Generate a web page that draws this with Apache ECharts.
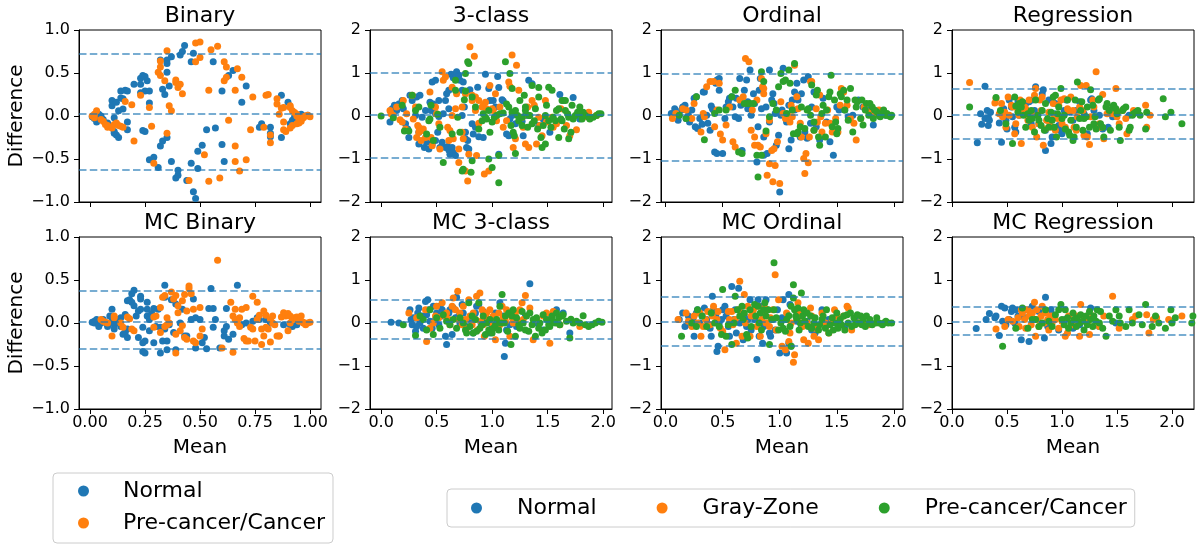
<!DOCTYPE html>
<html>
<head>
<meta charset="utf-8">
<script src="https://cdn.jsdelivr.net/npm/echarts@6/dist/echarts.min.js"></script>
<style>
html, body { margin: 0; padding: 0; background: #fff; }
#main { width: 1201px; height: 548px; }
</style>
</head>
<body>
<div id="main"></div>
<script>
// panel titles, ticks and limit lines (mean, mean +/- 1.96 sd)
var panelTitles = ['Binary', '3-class', 'Ordinal', 'Regression', 'MC Binary', 'MC 3-class', 'MC Ordinal', 'MC Regression'];
var xTicksBinary = [0, 0.25, 0.5, 0.75, 1];
var xTicksClass = [0, 0.5, 1, 1.5, 2];
var yTicksBinary = [-1, -0.5, 0, 0.5, 1];
var yTicksClass = [-2, -1, 0, 1, 2];

var binaryLimits = [0.72, 0.03, -0.63];
var classLimits = [1.0, 0.02, -0.97];
var ordinalLimits = [0.98, 0.03, -1.04];
var regressionLimits = [0.63, 0.02, -0.54];
var mcBinaryLimits = [0.37, 0.01, -0.30];
var mcClassLimits = [0.53, 0.03, -0.36];
var mcOrdinalLimits = [0.62, 0.03, -0.54];
var mcRegressionLimits = [0.38, 0.03, -0.27];

// [mean, difference]
var binaryNormal = [[0.01,-0.01],[0.02,-0.03],[0.03,-0.07],[0.04,0.02],[0.05,-0.02],[0.05,0.0],[0.06,-0.04],[0.08,-0.08],[0.10,0.18],[0.10,0.12],[0.11,-0.18],[0.11,-0.02],[0.11,-0.20],[0.12,-0.22],[0.13,-0.25],[0.13,0.06],[0.12,0.16],[0.14,0.29],[0.14,0.21],[0.15,0.20],[0.16,0.30],[0.17,0.29],[0.17,-0.07],[0.17,-0.16],[0.15,0.08],[0.20,0.37],[0.23,0.37],[0.23,0.44],[0.24,0.47],[0.25,0.46],[0.26,0.41],[0.23,0.27],[0.25,0.29],[0.27,0.29],[0.27,0.15],[0.24,-0.17],[0.25,-0.18],[0.27,-0.51],[0.29,-0.48],[0.31,-0.60],[0.32,-0.35],[0.33,-0.29],[0.35,-0.25],[0.33,0.31],[0.32,0.65],[0.35,0.65],[0.34,0.25],[0.36,0.35],[0.35,0.61],[0.35,0.51],[0.37,-0.53],[0.39,-0.72],[0.40,-0.69],[0.40,-0.63],[0.44,-0.75],[0.46,-0.55],[0.47,-0.88],[0.48,-0.96],[0.49,-0.61],[0.49,-0.41],[0.51,-0.34],[0.37,0.69],[0.41,0.71],[0.42,0.75],[0.43,0.82],[0.46,0.63],[0.47,0.73],[0.53,-0.16],[0.57,-0.14],[0.56,0.63],[0.60,-0.33],[0.60,0.29],[0.61,-0.53],[0.63,0.47],[0.65,0.53],[0.69,0.16],[0.71,0.35],[0.78,-0.09],[0.77,-0.13],[0.82,-0.13],[0.82,-0.24],[0.82,-0.20],[0.87,-0.25],[0.87,0.24],[0.90,0.16],[0.91,-0.09],[0.92,-0.05],[0.93,-0.01],[0.96,0.02],[0.97,0.0],[0.99,0.01]];
var binaryCancer = [[0.01,0.0],[0.02,-0.02],[0.02,0.02],[0.03,0.06],[0.05,-0.04],[0.06,-0.06],[0.07,-0.10],[0.08,-0.13],[0.08,-0.11],[0.10,-0.14],[0.11,-0.10],[0.12,-0.08],[0.13,-0.11],[0.14,-0.12],[0.15,-0.13],[0.16,0.17],[0.19,0.13],[0.20,-0.29],[0.23,0.24],[0.27,0.10],[0.28,-0.12],[0.29,-0.55],[0.31,0.51],[0.32,0.57],[0.32,0.47],[0.34,0.41],[0.32,0.64],[0.35,0.76],[0.36,0.12],[0.35,-0.20],[0.37,0.06],[0.39,0.42],[0.39,0.39],[0.40,0.33],[0.42,0.26],[0.41,0.37],[0.45,-0.75],[0.48,0.63],[0.48,0.85],[0.50,0.86],[0.50,0.68],[0.52,-0.45],[0.54,-0.76],[0.54,0.30],[0.55,0.77],[0.58,0.81],[0.59,-0.72],[0.61,0.63],[0.61,0.41],[0.62,0.57],[0.62,0.45],[0.63,-0.05],[0.66,-0.35],[0.66,-0.53],[0.66,0.30],[0.67,0.55],[0.68,-0.64],[0.69,0.45],[0.71,-0.51],[0.74,0.22],[0.73,-0.16],[0.79,-0.13],[0.80,0.24],[0.81,0.25],[0.82,-0.22],[0.82,-0.31],[0.85,0.20],[0.85,0.14],[0.86,0.02],[0.87,0.09],[0.88,-0.07],[0.88,0.10],[0.88,-0.16],[0.89,-0.18],[0.91,0.12],[0.91,0.10],[0.92,0.06],[0.93,0.04],[0.94,0.0],[0.94,0.02],[0.95,-0.04],[0.96,-0.06],[0.97,-0.02],[0.97,-0.01],[0.98,0.0],[0.99,0.01],[1.0,-0.01],[0.92,-0.11],[0.94,-0.09],[0.95,-0.08],[0.91,-0.14]];

var mcBinaryNormal = [[0.01,0.01],[0.02,0.02],[0.02,0.0],[0.03,0.04],[0.04,-0.02],[0.04,-0.04],[0.05,0.0],[0.06,0.02],[0.06,0.04],[0.08,-0.02],[0.08,-0.04],[0.09,0.08],[0.10,0.16],[0.10,0.02],[0.11,-0.02],[0.11,-0.07],[0.12,0.04],[0.13,0.0],[0.14,0.06],[0.14,-0.04],[0.15,-0.13],[0.16,0.10],[0.16,-0.11],[0.17,-0.07],[0.17,-0.17],[0.17,0.26],[0.18,0.27],[0.19,0.34],[0.19,0.24],[0.20,0.38],[0.20,0.20],[0.21,0.08],[0.22,-0.17],[0.22,0.14],[0.23,0.31],[0.23,0.16],[0.23,0.28],[0.24,-0.05],[0.24,-0.33],[0.24,-0.23],[0.25,-0.35],[0.25,-0.21],[0.26,0.16],[0.26,0.24],[0.26,0.08],[0.27,-0.09],[0.27,0.04],[0.28,0.11],[0.29,0.17],[0.29,-0.23],[0.30,-0.04],[0.31,0.16],[0.32,-0.05],[0.32,-0.35],[0.33,-0.21],[0.34,-0.07],[0.34,0.44],[0.34,0.30],[0.35,-0.31],[0.35,-0.21],[0.36,-0.02],[0.37,0.27],[0.38,-0.11],[0.39,0.22],[0.39,-0.31],[0.41,0.0],[0.42,0.16],[0.43,-0.15],[0.44,-0.15],[0.46,0.04],[0.47,0.28],[0.48,0.06],[0.48,-0.29],[0.50,0.04],[0.51,-0.23],[0.52,-0.17],[0.53,-0.30],[0.54,0.17],[0.55,0.40],[0.56,-0.05],[0.56,0.17],[0.57,0.04],[0.59,-0.29],[0.61,-0.09],[0.61,-0.15],[0.62,0.17],[0.62,-0.04],[0.63,-0.19],[0.65,-0.13],[0.67,0.44],[0.69,-0.02],[0.71,0.0],[0.74,0.02],[0.76,0.06],[0.77,0.04],[0.80,0.04],[0.82,0.0],[0.88,-0.02],[0.91,-0.02],[0.92,-0.04],[0.94,-0.02]];
var mcBinaryCancer = [[0.05,0.04],[0.06,0.02],[0.07,0.01],[0.08,0.0],[0.10,-0.15],[0.11,0.08],[0.11,0.06],[0.14,0.0],[0.15,-0.05],[0.17,0.07],[0.18,0.05],[0.19,-0.07],[0.20,-0.09],[0.29,-0.05],[0.29,0.07],[0.30,0.08],[0.32,-0.11],[0.32,0.18],[0.33,0.30],[0.34,0.32],[0.34,-0.04],[0.35,-0.02],[0.35,0.06],[0.36,0.0],[0.37,0.36],[0.38,0.28],[0.39,0.32],[0.39,-0.35],[0.39,-0.13],[0.40,0.12],[0.40,0.20],[0.41,-0.09],[0.42,-0.03],[0.42,0.26],[0.43,-0.17],[0.43,0.33],[0.44,0.14],[0.44,-0.19],[0.45,0.40],[0.45,0.43],[0.46,0.34],[0.47,0.16],[0.47,-0.21],[0.48,-0.23],[0.50,0.18],[0.50,-0.15],[0.51,-0.07],[0.58,0.73],[0.60,-0.29],[0.65,-0.34],[0.64,0.24],[0.65,0.08],[0.66,0.04],[0.66,0.16],[0.67,0.0],[0.68,0.06],[0.68,-0.04],[0.69,0.16],[0.70,-0.18],[0.71,0.18],[0.71,-0.21],[0.72,-0.21],[0.73,-0.05],[0.74,-0.07],[0.74,0.31],[0.75,-0.21],[0.76,0.24],[0.76,0.04],[0.77,0.09],[0.78,-0.07],[0.78,-0.25],[0.79,0.14],[0.79,-0.15],[0.80,0.09],[0.80,-0.05],[0.81,-0.07],[0.82,-0.22],[0.82,0.04],[0.83,0.08],[0.83,0.0],[0.84,-0.02],[0.85,-0.15],[0.86,-0.15],[0.86,-0.15],[0.87,0.07],[0.88,0.12],[0.89,0.08],[0.89,0.10],[0.90,0.11],[0.90,-0.09],[0.91,0.0],[0.91,0.08],[0.92,0.04],[0.93,0.06],[0.94,0.07],[0.94,0.04],[0.95,0.02],[0.96,0.08],[0.97,0.0],[0.97,0.01],[0.98,-0.02],[0.99,0.0],[1.0,0.01]];

var classNormal = [[0.08,-0.14],[0.10,0.17],[0.12,0.25],[0.14,0.13],[0.16,0.28],[0.19,0.36],[0.20,0.17],[0.22,-0.18],[0.24,-0.30],[0.25,-0.50],[0.26,0.48],[0.28,0.36],[0.31,0.01],[0.32,0.44],[0.34,-0.38],[0.34,-0.65],[0.35,0.48],[0.37,-0.03],[0.39,-0.73],[0.40,0.13],[0.41,-0.61],[0.43,-0.77],[0.44,0.32],[0.45,0.13],[0.46,-0.65],[0.47,0.28],[0.48,0.21],[0.49,0.05],[0.49,-0.57],[0.51,-0.38],[0.52,0.36],[0.52,-0.01],[0.53,-0.73],[0.55,-0.61],[0.46,0.79],[0.49,0.83],[0.56,0.05],[0.58,-0.73],[0.60,-0.71],[0.61,-0.79],[0.62,-0.89],[0.64,-0.73],[0.65,-0.85],[0.67,-0.92],[0.58,0.36],[0.59,0.52],[0.61,0.60],[0.61,0.17],[0.63,0.97],[0.65,0.89],[0.67,0.92],[0.67,0.97],[0.68,1.03],[0.70,0.95],[0.71,0.83],[0.73,0.60],[0.73,0.01],[0.74,0.79],[0.75,0.21],[0.76,-0.38],[0.76,-0.53],[0.77,-0.73],[0.78,-0.57],[0.79,-0.77],[0.80,0.61],[0.82,-0.18],[0.83,-0.42],[0.85,-0.26],[0.87,0.67],[0.88,-0.48],[0.92,-0.50],[0.94,0.97],[0.97,0.64],[0.98,0.36],[1.01,0.36],[1.03,0.21],[1.04,0.01],[1.05,0.92],[1.06,0.66],[1.06,-0.89],[1.09,0.38],[1.10,0.35],[1.13,-0.42],[1.15,-0.46],[1.16,-0.07],[1.18,0.01],[1.19,0.05],[1.21,-0.18],[1.27,-0.12],[1.28,-0.46],[1.30,0.01],[1.33,0.83],[1.36,0.75],[1.42,-0.22],[1.46,-0.07],[1.52,-0.38],[1.61,0.50],[1.64,0.36],[1.73,0.43],[1.79,-0.07]];
var classGray = [[0.08,0.13],[0.09,0.05],[0.11,0.01],[0.14,0.21],[0.17,-0.09],[0.19,-0.14],[0.20,0.36],[0.22,-0.30],[0.23,0.05],[0.28,0.48],[0.29,-0.07],[0.31,0.21],[0.32,-0.50],[0.33,-0.22],[0.34,-0.38],[0.34,-0.26],[0.36,-0.57],[0.37,-0.34],[0.38,-0.30],[0.40,-0.50],[0.44,0.56],[0.45,-0.50],[0.46,-0.69],[0.49,0.21],[0.50,0.05],[0.52,-0.18],[0.53,-0.77],[0.55,1.03],[0.56,0.83],[0.58,0.91],[0.60,-0.26],[0.61,-0.57],[0.62,-0.34],[0.64,0.67],[0.64,0.01],[0.65,-0.53],[0.67,0.17],[0.68,0.52],[0.70,-1.08],[0.70,-0.77],[0.73,-0.38],[0.73,0.21],[0.74,-0.53],[0.76,0.52],[0.76,-1.28],[0.78,-1.51],[0.79,-0.89],[0.80,1.61],[0.82,0.36],[0.82,0.48],[0.84,1.39],[0.85,0.44],[0.85,0.13],[0.86,-0.92],[0.88,0.36],[0.88,-0.17],[0.91,0.21],[0.92,0.25],[0.93,-1.35],[0.94,0.32],[0.95,0.17],[0.97,-1.28],[0.98,0.71],[1.00,0.17],[1.01,0.13],[1.03,0.52],[1.04,-0.11],[1.07,0.21],[1.10,-0.26],[1.13,-0.11],[1.15,0.79],[1.16,0.69],[1.18,1.42],[1.19,-0.73],[1.21,-0.53],[1.22,1.18],[1.24,0.60],[1.27,-0.03],[1.28,-0.26],[1.30,-0.65],[1.32,0.21],[1.33,-0.73],[1.36,0.36],[1.38,0.25],[1.40,-0.65],[1.42,-0.03],[1.43,-0.22],[1.45,-0.46],[1.48,0.36],[1.49,-0.14],[1.54,-0.03],[1.55,-0.26],[1.58,-0.18],[1.62,0.17],[1.67,-0.22],[1.70,-0.46],[1.76,-0.32],[1.82,-0.03],[1.87,0.09],[1.94,0.01]];
var classCancer = [[0.0,0.0],[0.11,-0.04],[0.19,0.25],[0.21,-0.35],[0.25,-0.35],[0.28,0.48],[0.31,0.13],[0.34,0.21],[0.41,-0.42],[0.43,-0.11],[0.44,-0.07],[0.45,0.25],[0.47,-0.57],[0.51,0.04],[0.53,-0.26],[0.56,-1.08],[0.64,-0.42],[0.67,0.83],[0.67,0.60],[0.69,-0.03],[0.71,-0.38],[0.73,-1.28],[0.74,-1.24],[0.75,0.38],[0.76,0.58],[0.76,0.99],[0.78,1.26],[0.79,1.22],[0.81,-1.31],[0.82,-1.04],[0.82,0.44],[0.85,0.21],[0.88,-0.30],[0.91,-0.11],[0.92,0.05],[0.94,-0.03],[0.95,-0.07],[0.97,0.13],[0.97,-1.00],[0.98,-0.38],[1.00,-0.14],[1.00,-1.20],[1.02,-0.03],[1.04,0.01],[1.06,-1.55],[1.06,-0.92],[1.07,0.05],[1.10,0.07],[1.12,1.26],[1.13,0.28],[1.15,0.21],[1.16,0.99],[1.17,-0.22],[1.18,0.09],[1.18,0.64],[1.19,-0.38],[1.20,-0.46],[1.21,-0.87],[1.21,0.13],[1.23,0.01],[1.24,-0.11],[1.25,0.36],[1.27,-0.22],[1.27,-0.03],[1.29,0.48],[1.30,0.13],[1.30,0.21],[1.32,-0.26],[1.33,0.01],[1.34,0.01],[1.36,-0.18],[1.36,0.71],[1.38,-0.11],[1.39,0.17],[1.41,-0.30],[1.42,0.66],[1.42,0.44],[1.44,-0.50],[1.45,-0.73],[1.46,-0.22],[1.48,-0.65],[1.48,0.01],[1.49,0.25],[1.51,0.67],[1.51,-0.11],[1.53,-0.26],[1.54,0.60],[1.55,-0.03],[1.57,-0.11],[1.58,0.13],[1.60,0.17],[1.60,-0.50],[1.62,-0.07],[1.63,0.36],[1.63,-0.11],[1.65,-0.30],[1.66,0.13],[1.66,0.36],[1.68,0.05],[1.69,-0.53],[1.69,-0.03],[1.71,-0.38],[1.72,0.25],[1.73,-0.07],[1.75,0.01],[1.77,0.09],[1.79,0.21],[1.80,0.05],[1.81,-0.07],[1.82,0.09],[1.84,0.01],[1.87,-0.03],[1.88,-0.07],[1.91,-0.03],[1.94,0.01],[1.96,0.05],[1.98,0.05]];

var ordinalNormal = [[0.05,0.06],[0.08,0.17],[0.11,-0.10],[0.12,0.02],[0.14,0.14],[0.15,0.21],[0.17,0.25],[0.18,-0.06],[0.20,0.02],[0.21,-0.14],[0.23,0.14],[0.25,0.41],[0.26,-0.25],[0.27,0.45],[0.28,-0.29],[0.30,-0.06],[0.32,-0.19],[0.33,0.56],[0.34,0.56],[0.36,0.02],[0.37,-0.17],[0.39,-0.33],[0.40,0.23],[0.41,0.17],[0.42,0.14],[0.43,-0.84],[0.44,0.76],[0.45,-0.87],[0.45,0.84],[0.47,0.60],[0.47,0.87],[0.50,-0.87],[0.52,-0.06],[0.53,0.21],[0.55,0.33],[0.56,0.41],[0.58,0.45],[0.59,0.21],[0.61,-0.02],[0.62,0.41],[0.64,-0.06],[0.65,0.87],[0.66,0.25],[0.67,-0.80],[0.69,0.60],[0.71,0.84],[0.72,0.17],[0.72,0.33],[0.74,1.07],[0.75,0.02],[0.77,0.52],[0.78,0.29],[0.80,-1.07],[0.81,-0.25],[0.82,0.60],[0.83,0.87],[0.84,0.17],[0.86,-0.49],[0.86,-0.91],[0.88,0.21],[0.89,-0.87],[0.91,-0.14],[0.91,1.07],[0.93,0.37],[0.94,0.52],[0.95,0.29],[0.96,0.06],[0.97,-0.68],[0.99,-0.45],[1.00,-1.77],[1.01,0.02],[1.02,0.14],[1.03,1.11],[1.05,-0.02],[1.06,-0.14],[1.08,0.25],[1.08,-0.76],[1.10,-0.56],[1.11,0.37],[1.13,0.56],[1.13,0.14],[1.15,0.76],[1.16,0.37],[1.18,-0.49],[1.19,0.52],[1.21,0.84],[1.22,-0.37],[1.24,-0.52],[1.25,0.91],[1.27,-0.17],[1.28,0.21],[1.30,0.56],[1.32,-0.25],[1.35,-0.56],[1.38,0.41],[1.41,-0.14],[1.44,-0.60],[1.47,-0.91],[1.50,0.21],[1.52,0.14],[1.57,0.14],[1.60,-0.02],[1.64,0.02],[1.69,0.37],[1.73,0.21],[1.78,0.14],[1.82,-0.21],[1.87,0.06],[1.93,0.02]];
var ordinalGray = [[0.06,-0.06],[0.09,0.06],[0.15,0.17],[0.18,0.14],[0.23,-0.06],[0.25,0.29],[0.31,-0.37],[0.33,0.06],[0.34,-0.02],[0.36,0.68],[0.39,0.80],[0.42,0.80],[0.43,-0.25],[0.45,0.14],[0.47,0.76],[0.48,-0.42],[0.50,-0.56],[0.53,-0.21],[0.56,0.21],[0.59,-0.60],[0.61,-0.72],[0.65,0.37],[0.68,0.45],[0.70,1.34],[0.73,1.26],[0.75,-0.33],[0.76,0.14],[0.78,-0.68],[0.78,-0.49],[0.80,0.37],[0.81,-0.68],[0.83,-0.72],[0.84,0.87],[0.85,0.68],[0.86,0.52],[0.86,0.64],[0.88,-0.41],[0.89,-1.38],[0.91,-1.11],[0.91,-0.10],[0.93,-0.80],[0.94,-1.53],[0.95,-0.76],[0.96,-1.15],[0.98,-0.60],[1.00,-1.57],[1.01,0.33],[1.03,0.06],[1.05,-0.06],[1.07,0.02],[1.09,-0.14],[1.10,0.25],[1.11,-0.02],[1.13,1.18],[1.15,0.45],[1.16,0.17],[1.18,-0.17],[1.19,-0.49],[1.21,-0.99],[1.22,-1.34],[1.23,-0.87],[1.25,-1.09],[1.26,-0.49],[1.27,0.80],[1.28,0.80],[1.30,-0.33],[1.32,0.17],[1.33,-0.14],[1.35,0.49],[1.36,-0.02],[1.37,-0.37],[1.40,-0.17],[1.42,0.14],[1.44,-0.17],[1.46,-0.37],[1.49,-0.06],[1.51,-0.37],[1.53,0.25],[1.54,0.64],[1.56,0.56],[1.59,0.25],[1.62,-0.06],[1.65,-0.17],[1.67,-0.56],[1.71,-0.06],[1.74,0.21],[1.78,0.10],[1.82,0.06],[1.87,0.14]];
var ordinalCancer = [[0.12,0.02],[0.18,-0.06],[0.27,0.45],[0.34,-0.55],[0.43,0.06],[0.47,0.14],[0.53,0.14],[0.58,0.45],[0.61,0.60],[0.64,-0.84],[0.67,-0.87],[0.69,0.29],[0.72,0.29],[0.74,0.29],[0.77,0.29],[0.80,-0.91],[0.81,-1.42],[0.84,-0.91],[0.84,1.03],[0.86,0.80],[0.88,-0.35],[0.91,-0.02],[0.94,0.29],[0.97,0.14],[0.99,0.68],[1.01,0.99],[1.03,0.80],[1.05,0.84],[1.06,0.06],[1.08,1.07],[1.09,0.76],[1.11,0.14],[1.12,-0.41],[1.13,1.22],[1.15,-0.41],[1.16,-0.37],[1.18,-0.25],[1.19,0.21],[1.22,-0.29],[1.24,0.14],[1.25,0.17],[1.27,0.02],[1.28,0.72],[1.30,-0.14],[1.30,-0.33],[1.32,0.49],[1.33,0.60],[1.34,-0.49],[1.35,-0.68],[1.37,0.06],[1.38,0.25],[1.40,-0.49],[1.41,0.14],[1.43,0.45],[1.44,0.56],[1.45,0.95],[1.46,-0.25],[1.48,0.37],[1.49,-0.14],[1.50,-0.41],[1.51,-0.29],[1.53,0.52],[1.54,0.45],[1.56,0.60],[1.57,0.14],[1.59,0.37],[1.60,-0.10],[1.62,0.64],[1.64,-0.37],[1.66,0.37],[1.67,0.21],[1.68,0.33],[1.71,-0.06],[1.72,0.37],[1.73,-0.21],[1.75,0.14],[1.76,0.29],[1.78,0.02],[1.79,0.29],[1.81,0.21],[1.82,-0.06],[1.83,0.14],[1.85,0.10],[1.87,0.02],[1.88,-0.02],[1.90,0.06],[1.91,0.14],[1.93,0.02],[1.94,0.06],[1.95,0.02],[1.97,-0.02],[1.98,0.02]];

var regressionNormal = [[0.23,-0.62],[0.26,0.05],[0.27,-0.19],[0.30,0.69],[0.30,-0.06],[0.32,0.13],[0.33,-0.04],[0.33,-0.22],[0.34,-0.10],[0.35,0.09],[0.43,-0.16],[0.45,-0.61],[0.47,0.17],[0.49,-0.10],[0.50,-0.30],[0.52,0.37],[0.54,0.21],[0.55,-0.02],[0.57,-0.26],[0.58,-0.37],[0.60,0.33],[0.61,0.02],[0.64,0.13],[0.67,0.29],[0.70,0.33],[0.72,-0.18],[0.73,0.37],[0.75,0.13],[0.76,0.68],[0.78,0.02],[0.79,-0.18],[0.82,0.51],[0.83,0.61],[0.85,-0.80],[0.85,-0.33],[0.87,-0.10],[0.88,0.37],[0.90,-0.64],[0.91,-0.49],[0.93,0.05],[0.94,0.29],[0.97,-0.22],[0.98,-0.33],[1.00,-0.41],[1.02,0.13],[1.04,0.37],[1.07,0.09],[1.10,-0.10],[1.13,0.13],[1.16,0.33],[1.20,0.05],[1.23,-0.41],[1.26,0.37],[1.27,0.40],[1.29,0.13],[1.34,0.02],[1.37,-0.30],[1.42,-0.26],[1.46,-0.02],[1.50,0.05],[1.61,0.02]];
var regressionGray = [[0.16,0.78],[0.39,0.30],[0.40,0.40],[0.43,0.05],[0.45,0.29],[0.46,-0.02],[0.48,0.09],[0.49,-0.26],[0.51,0.44],[0.52,0.02],[0.54,0.25],[0.55,0.21],[0.57,-0.41],[0.58,-0.18],[0.60,0.13],[0.61,0.02],[0.62,0.37],[0.63,-0.64],[0.64,0.09],[0.66,0.21],[0.67,0.17],[0.69,-0.10],[0.70,0.37],[0.71,-0.06],[0.72,0.05],[0.73,-0.26],[0.75,0.48],[0.76,0.64],[0.77,-0.49],[0.79,-0.18],[0.80,0.37],[0.81,0.13],[0.82,0.44],[0.83,-0.68],[0.85,-0.30],[0.86,-0.10],[0.88,0.09],[0.89,-0.22],[0.91,-0.26],[0.92,0.29],[0.93,0.02],[0.94,-0.33],[0.96,-0.06],[0.97,0.25],[0.99,0.37],[1.00,-0.18],[1.02,0.40],[1.03,-0.26],[1.05,0.17],[1.06,0.13],[1.08,0.44],[1.10,0.13],[1.11,-0.26],[1.13,-0.33],[1.14,-0.02],[1.16,0.21],[1.17,0.71],[1.19,0.13],[1.20,-0.45],[1.22,0.71],[1.23,-0.49],[1.25,-0.66],[1.26,-0.02],[1.28,0.37],[1.29,0.21],[1.31,1.03],[1.32,-0.22],[1.34,-0.18],[1.35,-0.26],[1.37,0.50],[1.38,-0.53],[1.41,0.05],[1.46,0.05],[1.49,0.64],[1.50,-0.02],[1.52,-0.18],[1.55,0.13],[1.58,-0.06],[1.59,-0.41],[1.65,0.13],[1.76,0.25],[1.77,-0.26],[1.80,0.02]];
var regressionCancer = [[0.16,0.21],[0.40,0.43],[0.44,0.13],[0.49,-0.18],[0.55,-0.64],[0.57,0.44],[0.58,0.23],[0.60,0.09],[0.61,0.29],[0.63,0.21],[0.64,0.33],[0.65,0.02],[0.67,-0.26],[0.69,0.05],[0.70,-0.10],[0.72,0.13],[0.73,-0.06],[0.75,-0.37],[0.76,0.37],[0.78,0.02],[0.79,-0.10],[0.81,-0.22],[0.82,0.13],[0.84,-0.33],[0.85,0.29],[0.87,-0.06],[0.88,-0.26],[0.90,0.09],[0.91,-0.10],[0.92,0.44],[0.93,-0.26],[0.94,0.48],[0.95,-0.49],[0.96,0.05],[0.97,0.21],[0.99,0.64],[1.00,-0.06],[1.02,0.02],[1.03,-0.30],[1.05,0.37],[1.06,-0.37],[1.07,-0.45],[1.08,-0.10],[1.10,-0.57],[1.11,-0.49],[1.12,0.37],[1.13,-0.26],[1.14,0.79],[1.16,-0.06],[1.17,0.13],[1.18,0.33],[1.19,-0.33],[1.20,-0.06],[1.22,-0.02],[1.23,0.21],[1.25,-0.26],[1.26,0.61],[1.28,0.25],[1.29,-0.18],[1.30,-0.02],[1.31,-0.30],[1.33,0.37],[1.34,0.40],[1.35,-0.18],[1.37,-0.26],[1.38,-0.49],[1.40,0.21],[1.41,0.29],[1.43,0.13],[1.44,-0.33],[1.46,0.21],[1.47,0.25],[1.49,0.17],[1.50,0.05],[1.52,-0.26],[1.53,-0.57],[1.55,0.13],[1.56,0.17],[1.58,0.21],[1.61,-0.33],[1.62,-0.26],[1.64,0.02],[1.65,0.05],[1.67,0.09],[1.69,0.13],[1.71,0.02],[1.76,-0.30],[1.77,0.09],[1.92,0.40],[1.94,-0.02],[1.99,0.09],[2.09,-0.18]];

var mcClassNormal = [[0.09,0.02],[0.16,0.0],[0.26,0.31],[0.27,0.08],[0.28,-0.04],[0.29,0.12],[0.31,-0.19],[0.32,-0.08],[0.33,0.23],[0.34,0.35],[0.35,0.0],[0.37,0.16],[0.38,-0.12],[0.40,0.50],[0.41,0.19],[0.42,0.54],[0.43,0.31],[0.44,0.04],[0.46,-0.12],[0.47,0.39],[0.49,0.08],[0.50,0.23],[0.52,-0.04],[0.53,0.39],[0.55,0.31],[0.56,0.16],[0.58,-0.31],[0.59,-0.50],[0.61,0.23],[0.62,0.31],[0.64,-0.27],[0.65,0.35],[0.67,0.12],[0.68,0.60],[0.70,0.16],[0.71,0.0],[0.73,0.43],[0.74,0.23],[0.77,-0.08],[0.80,0.08],[0.83,-0.23],[0.85,0.23],[0.86,0.39],[0.88,0.43],[0.90,0.0],[0.92,0.27],[0.95,0.08],[0.98,-0.23],[1.00,-0.08],[1.03,0.23],[1.04,-0.04],[1.07,0.47],[1.10,0.16],[1.11,-0.78],[1.12,-0.47],[1.13,-0.16],[1.16,-0.04],[1.19,0.08],[1.22,-0.08],[1.25,0.04],[1.30,0.16],[1.34,0.91],[1.40,0.0],[1.46,-0.16],[1.52,0.08],[1.58,0.31],[1.64,0.23],[1.70,-0.23]];
var mcClassGray = [[0.25,0.23],[0.32,0.12],[0.40,0.31],[0.41,-0.43],[0.44,-0.12],[0.47,0.0],[0.49,0.16],[0.50,0.39],[0.52,0.12],[0.55,0.47],[0.58,0.16],[0.59,0.23],[0.61,0.08],[0.62,-0.04],[0.64,0.39],[0.65,0.58],[0.67,0.31],[0.69,0.74],[0.70,0.08],[0.71,0.23],[0.73,-0.04],[0.74,0.39],[0.76,0.08],[0.77,-0.12],[0.79,0.54],[0.80,0.16],[0.82,-0.04],[0.83,0.23],[0.85,0.08],[0.86,0.62],[0.87,-0.16],[0.89,0.70],[0.90,0.04],[0.91,0.31],[0.92,-0.04],[0.93,-0.31],[0.94,0.16],[0.95,0.23],[0.97,0.08],[0.98,0.31],[1.00,0.0],[1.01,0.16],[1.03,-0.39],[1.04,0.08],[1.06,0.23],[1.07,-0.04],[1.09,0.39],[1.10,0.12],[1.12,0.04],[1.13,0.31],[1.15,0.19],[1.16,-0.31],[1.18,0.12],[1.19,0.0],[1.21,0.23],[1.22,0.04],[1.25,0.31],[1.27,0.47],[1.28,0.08],[1.30,0.64],[1.34,0.35],[1.37,-0.39],[1.40,0.08],[1.46,0.16],[1.49,0.23],[1.52,-0.47],[1.55,0.27],[1.61,-0.04],[1.79,-0.08]];
var mcClassCancer = [[0.20,-0.04],[0.31,-0.29],[0.35,0.16],[0.38,0.08],[0.41,-0.16],[0.44,0.31],[0.47,-0.27],[0.50,0.12],[0.53,-0.12],[0.56,0.19],[0.59,0.04],[0.62,-0.04],[0.65,0.08],[0.68,-0.12],[0.71,0.12],[0.74,0.0],[0.76,-0.16],[0.77,-0.23],[0.79,0.47],[0.80,-0.08],[0.82,0.16],[0.83,-0.23],[0.85,0.08],[0.86,-0.19],[0.88,0.47],[0.89,-0.12],[0.91,-0.04],[0.92,0.16],[0.94,-0.27],[0.95,0.0],[0.97,-0.16],[0.98,0.08],[1.00,-0.23],[1.01,-0.12],[1.03,-0.04],[1.04,0.08],[1.06,-0.16],[1.07,0.39],[1.08,0.0],[1.09,0.66],[1.11,0.0],[1.12,0.16],[1.14,-0.19],[1.15,0.23],[1.17,-0.50],[1.18,0.16],[1.19,0.31],[1.21,-0.31],[1.22,0.12],[1.24,-0.04],[1.25,-0.12],[1.27,0.27],[1.28,0.0],[1.30,-0.16],[1.31,0.16],[1.33,-0.19],[1.34,0.23],[1.36,-0.04],[1.37,0.08],[1.39,-0.31],[1.40,0.12],[1.42,-0.12],[1.43,0.0],[1.45,-0.23],[1.46,0.19],[1.48,-0.16],[1.49,0.08],[1.51,-0.04],[1.52,-0.08],[1.54,0.16],[1.55,0.04],[1.57,0.0],[1.58,0.23],[1.60,0.12],[1.61,-0.04],[1.63,0.16],[1.64,0.19],[1.67,0.04],[1.70,-0.35],[1.71,0.09],[1.73,0.0],[1.76,0.04],[1.79,0.0],[1.82,0.17],[1.84,-0.04],[1.87,-0.08],[1.90,-0.04],[1.93,0.0],[1.96,0.04],[1.99,0.02]];

var mcOrdinalNormal = [[0.12,0.08],[0.15,0.23],[0.17,-0.08],[0.20,0.16],[0.22,-0.04],[0.24,0.08],[0.25,-0.31],[0.27,0.23],[0.28,0.31],[0.30,0.0],[0.32,0.16],[0.34,0.35],[0.36,0.08],[0.37,-0.04],[0.39,-0.12],[0.40,-0.31],[0.41,0.62],[0.42,0.31],[0.44,0.16],[0.45,-0.66],[0.46,-0.54],[0.47,0.0],[0.49,0.08],[0.50,0.31],[0.52,0.39],[0.53,0.16],[0.55,-0.08],[0.56,-0.31],[0.58,0.85],[0.60,0.08],[0.61,0.31],[0.62,-0.23],[0.64,0.81],[0.65,0.0],[0.67,0.23],[0.68,-0.39],[0.69,0.16],[0.71,-0.08],[0.72,0.08],[0.74,0.54],[0.75,-0.16],[0.78,0.08],[0.80,-0.85],[0.81,0.54],[0.82,-0.31],[0.84,0.39],[0.85,-0.47],[0.86,-0.08],[0.88,0.54],[0.89,0.31],[0.91,-0.23],[0.92,-0.31],[0.94,0.08],[0.96,-0.16],[0.98,0.31],[1.00,-0.70],[1.02,0.12],[1.03,0.54],[1.05,0.08],[1.06,-0.70],[1.08,-0.47],[1.08,0.66],[1.09,0.43],[1.10,-0.54],[1.15,0.04],[1.19,-0.08],[1.24,0.04],[1.28,-0.16],[1.31,-0.23],[1.37,0.31],[1.43,0.08],[1.49,0.0],[1.57,-0.08],[1.66,0.08]];
var mcOrdinalGray = [[0.11,0.08],[0.18,0.23],[0.20,0.04],[0.23,-0.08],[0.25,0.16],[0.28,0.0],[0.30,0.23],[0.31,-0.31],[0.33,-0.08],[0.35,0.08],[0.37,0.27],[0.39,-0.04],[0.41,0.16],[0.42,0.39],[0.45,0.08],[0.46,0.27],[0.48,-0.12],[0.50,-0.19],[0.52,-0.62],[0.55,0.27],[0.56,0.08],[0.58,0.27],[0.59,-0.04],[0.61,0.08],[0.62,-0.47],[0.64,0.31],[0.65,0.97],[0.67,-0.31],[0.69,0.66],[0.70,0.0],[0.72,0.39],[0.74,-0.31],[0.75,0.16],[0.77,0.31],[0.78,0.16],[0.80,-0.08],[0.81,0.39],[0.83,-0.31],[0.84,0.08],[0.86,0.23],[0.87,0.35],[0.88,0.0],[0.91,-0.08],[0.92,0.12],[0.94,0.31],[0.96,1.12],[0.97,-0.16],[0.99,0.54],[1.02,-0.54],[1.05,-0.62],[1.06,0.23],[1.08,-0.43],[1.09,-0.23],[1.10,0.0],[1.12,-0.91],[1.13,-0.74],[1.15,0.08],[1.16,0.47],[1.17,0.27],[1.19,0.16],[1.20,-0.08],[1.21,-0.39],[1.22,0.23],[1.24,0.0],[1.25,-0.47],[1.27,0.35],[1.28,0.16],[1.30,-0.31],[1.31,-0.12],[1.34,-0.39],[1.37,0.23],[1.40,0.0],[1.43,-0.23],[1.46,0.08],[1.48,0.31],[1.50,0.16],[1.53,-0.04],[1.56,0.16],[1.59,0.39],[1.60,0.35],[1.63,-0.16],[1.69,0.0],[1.73,0.0],[1.78,-0.04]];
var mcOrdinalCancer = [[0.14,-0.31],[0.23,0.0],[0.27,-0.08],[0.28,0.31],[0.32,0.16],[0.36,-0.08],[0.40,0.23],[0.43,0.0],[0.47,-0.08],[0.49,-0.27],[0.50,0.78],[0.53,-0.31],[0.55,-0.04],[0.58,-0.50],[0.60,0.0],[0.61,0.62],[0.63,0.31],[0.65,0.16],[0.67,0.39],[0.68,0.08],[0.69,0.23],[0.71,-0.27],[0.72,-0.35],[0.74,0.31],[0.75,-0.08],[0.78,0.43],[0.79,0.16],[0.81,0.39],[0.82,0.0],[0.83,0.23],[0.84,-0.16],[0.86,0.31],[0.87,0.47],[0.88,0.16],[0.90,0.31],[0.91,-0.50],[0.93,0.08],[0.95,1.40],[0.95,0.31],[0.97,0.12],[0.99,-0.16],[1.01,0.0],[1.03,-0.12],[1.05,-0.19],[1.06,0.08],[1.08,0.17],[1.09,-0.08],[1.10,0.39],[1.10,-0.54],[1.12,0.89],[1.12,0.58],[1.13,0.31],[1.14,0.16],[1.15,0.08],[1.16,0.35],[1.17,-0.16],[1.18,0.0],[1.19,0.70],[1.20,0.16],[1.21,0.31],[1.22,0.04],[1.24,0.23],[1.25,-0.08],[1.27,0.16],[1.28,-0.12],[1.30,0.0],[1.31,0.12],[1.34,-0.16],[1.35,-0.04],[1.37,0.08],[1.38,0.16],[1.40,-0.12],[1.41,0.31],[1.43,-0.23],[1.44,-0.04],[1.46,0.12],[1.47,-0.16],[1.49,0.0],[1.50,0.23],[1.51,-0.12],[1.53,0.08],[1.54,-0.04],[1.56,0.16],[1.57,-0.16],[1.59,0.19],[1.60,0.0],[1.62,0.23],[1.63,-0.08],[1.65,0.12],[1.66,-0.04],[1.68,0.19],[1.69,0.0],[1.71,0.16],[1.72,-0.04],[1.73,0.08],[1.75,-0.08],[1.76,0.16],[1.78,0.0],[1.79,0.08],[1.81,-0.04],[1.84,0.0],[1.85,0.12],[1.87,0.0],[1.90,-0.04],[1.91,0.0],[1.93,0.04],[1.95,0.0],[1.98,0.0]];

var mcRegressionNormal = [[0.22,-0.13],[0.31,0.08],[0.34,0.22],[0.39,0.12],[0.40,0.16],[0.43,-0.29],[0.45,0.39],[0.46,0.04],[0.48,0.35],[0.49,-0.04],[0.52,0.08],[0.54,0.27],[0.55,0.35],[0.57,0.0],[0.58,0.31],[0.60,0.16],[0.63,-0.39],[0.64,0.16],[0.67,0.31],[0.70,-0.43],[0.73,0.39],[0.76,0.08],[0.79,0.27],[0.84,-0.35],[0.85,0.60],[0.87,-0.08],[0.90,0.31],[0.93,0.08],[0.97,-0.16],[1.03,0.08],[1.10,-0.12],[1.16,-0.04],[1.26,0.35],[1.34,-0.08],[1.49,0.0]];
var mcRegressionGray = [[0.40,-0.14],[0.48,-0.08],[0.51,0.08],[0.55,0.04],[0.60,0.12],[0.61,-0.08],[0.63,0.31],[0.64,0.23],[0.66,0.08],[0.67,-0.12],[0.69,0.31],[0.70,0.16],[0.72,-0.04],[0.73,0.23],[0.75,0.48],[0.76,-0.31],[0.77,0.31],[0.78,0.08],[0.79,-0.08],[0.81,0.16],[0.82,0.39],[0.84,0.0],[0.85,0.23],[0.87,0.08],[0.88,-0.16],[0.90,0.16],[0.91,0.0],[0.94,0.08],[0.97,-0.12],[1.00,0.04],[1.03,-0.31],[1.05,-0.23],[1.06,0.16],[1.10,-0.04],[1.13,0.16],[1.16,-0.31],[1.17,0.43],[1.20,0.08],[1.23,0.0],[1.25,-0.27],[1.28,0.16],[1.34,-0.08],[1.38,0.16],[1.46,0.62],[1.52,-0.12],[1.64,0.08],[1.67,0.16],[1.77,0.19],[1.79,-0.23],[1.83,0.08],[1.86,0.12],[1.97,0.08],[2.09,0.16]];
var mcRegressionCancer = [[0.46,-0.54],[0.58,-0.12],[0.64,0.35],[0.69,-0.12],[0.73,0.08],[0.76,0.08],[0.79,-0.08],[0.82,0.0],[0.85,0.31],[0.88,0.04],[0.91,-0.08],[0.94,0.19],[0.97,0.31],[0.99,0.43],[1.00,0.08],[1.02,-0.04],[1.03,0.31],[1.05,0.12],[1.06,-0.12],[1.08,0.0],[1.10,0.23],[1.11,0.08],[1.13,-0.08],[1.14,0.12],[1.16,0.0],[1.17,0.19],[1.19,0.04],[1.20,-0.16],[1.22,0.16],[1.23,-0.04],[1.25,0.27],[1.26,0.08],[1.28,-0.08],[1.29,0.16],[1.31,0.04],[1.32,0.31],[1.34,0.0],[1.35,0.27],[1.37,-0.12],[1.40,-0.31],[1.43,0.16],[1.46,0.04],[1.49,0.31],[1.52,0.16],[1.53,0.0],[1.58,-0.08],[1.61,0.31],[1.64,0.0],[1.70,0.19],[1.73,-0.04],[1.76,0.43],[1.82,-0.08],[1.85,0.16],[1.88,0.0],[1.94,-0.12],[1.99,0.31],[2.00,0.0],[2.03,0.12],[2.18,0.0],[2.19,0.16]];

var colors = ['#1f77b4', '#ff7f0e', '#2ca02c'];
var namesBinary = ['Normal', 'Pre-cancer/Cancer'];
var namesClass = ['Normal', 'Gray-Zone', 'Pre-cancer/Cancer'];
var fontFamily = 'DejaVu Sans';

var panels = [
    {sets: [binaryNormal, binaryCancer], names: namesBinary, limits: binaryLimits},
    {sets: [classNormal, classGray, classCancer], names: namesClass, limits: classLimits},
    {sets: [ordinalNormal, ordinalGray, ordinalCancer], names: namesClass, limits: ordinalLimits},
    {sets: [regressionNormal, regressionGray, regressionCancer], names: namesClass, limits: regressionLimits},
    {sets: [mcBinaryNormal, mcBinaryCancer], names: namesBinary, limits: mcBinaryLimits},
    {sets: [mcClassNormal, mcClassGray, mcClassCancer], names: namesClass, limits: mcClassLimits},
    {sets: [mcOrdinalNormal, mcOrdinalGray, mcOrdinalCancer], names: namesClass, limits: mcOrdinalLimits},
    {sets: [mcRegressionNormal, mcRegressionGray, mcRegressionCancer], names: namesClass, limits: mcRegressionLimits}
];

// layout of the 2x4 grid (px)
var colLeft = [79, 370, 661, 952];
var rowTop = [30, 237];
var gridW = 242, gridH = 172;
var xRanges = [[-0.05, 1.05], [-0.1, 2.08], [-0.04, 2.08], [0, 2.2]];

function minus(s) { return s.replace('-', '\u2212'); }

var grids = [], xAxes = [], yAxes = [], series = [], graphics = [];
panels.forEach(function (p, i) {
    var col = i % 4, row = Math.floor(i / 4);
    var isBin = col === 0;
    grids.push({
        left: colLeft[col], top: rowTop[row], width: gridW, height: gridH,
        show: true, borderColor: '#000', borderWidth: 1, backgroundColor: 'transparent',
        containLabel: false, outerBoundsMode: 'none'
    });
    var xt = isBin ? xTicksBinary : xTicksClass;
    xAxes.push({
        gridIndex: i, type: 'value', min: xRanges[col][0], max: xRanges[col][1],
        axisLine: {show: true, onZero: false, lineStyle: {color: '#000', width: 1}},
        axisTick: {show: true, length: 5, lineStyle: {color: '#000', width: 1}, customValues: xt},
        axisLabel: {
            show: row === 1, customValues: xt, margin: 6, fontSize: 16, color: '#000', fontFamily: fontFamily,
            formatter: function (v) { return v.toFixed(isBin ? 2 : 1); }
        },
        splitLine: {show: false},
        name: row === 1 ? 'Mean' : '', nameLocation: 'middle', nameGap: 29,
        nameTextStyle: {fontSize: 20, color: '#000', fontFamily: fontFamily}
    });
    var yt = isBin ? yTicksBinary : yTicksClass;
    yAxes.push({
        gridIndex: i, type: 'value', min: yt[0], max: yt[yt.length - 1],
        axisLine: {show: true, onZero: false, lineStyle: {color: '#000', width: 1}},
        axisTick: {show: true, length: 5, lineStyle: {color: '#000', width: 1}, customValues: yt},
        axisLabel: {
            customValues: yt, margin: 9, fontSize: 16, color: '#000', fontFamily: fontFamily,
            formatter: function (v) { return minus(isBin ? v.toFixed(1) : String(Math.round(v))); }
        },
        splitLine: {show: false},
        name: isBin ? 'Difference' : '', nameLocation: 'middle', nameGap: 52, nameRotate: 90,
        nameTextStyle: {fontSize: 20, color: '#000', fontFamily: fontFamily}
    });
    p.sets.forEach(function (d, k) {
        series.push({
            type: 'scatter', name: p.names[k], xAxisIndex: i, yAxisIndex: i,
            data: d, symbolSize: 7, itemStyle: {color: colors[k], opacity: 1},
            silent: true, animation: false
        });
    });
    series.push({
        type: 'line', xAxisIndex: i, yAxisIndex: i, data: [], z: 5, silent: true, animation: false,
        markLine: {
            symbol: ['none', 'none'], silent: true, animation: false, label: {show: false},
            lineStyle: {color: '#1f77b4', width: 1.7, type: [7.5, 3.3], opacity: 0.8},
            data: p.limits.map(function (v) { return {yAxis: v}; })
        }
    });
    graphics.push({
        type: 'text', silent: true,
        x: colLeft[col] + gridW / 2, y: rowTop[row] - 14,
        style: {text: panelTitles[i], align: 'center', verticalAlign: 'middle',
            fontSize: 22, fontFamily: fontFamily, fill: '#000'}
    });
});

var option = {
    backgroundColor: '#fff',
    animation: false,
    grid: grids,
    xAxis: xAxes,
    yAxis: yAxes,
    series: series,
    graphic: graphics,
    legend: [
        {
            data: namesBinary.map(function (n, k) { return {name: n, itemStyle: {color: colors[k]}}; }),
            orient: 'vertical', left: 53, top: 473, icon: 'circle', itemWidth: 11, itemHeight: 11, itemGap: 10,
            padding: [7, 8, 9, 25], borderColor: '#cccccc', borderWidth: 1, borderRadius: 4,
            backgroundColor: '#fff', selectedMode: false,
            textStyle: {fontSize: 22, color: '#000', fontFamily: fontFamily, padding: [0, 0, 0, 29]}
        },
        {
            data: namesClass.map(function (n, k) { return {name: n, itemStyle: {color: colors[k]}}; }),
            orient: 'horizontal', left: 447, top: 489, icon: 'circle', itemWidth: 11, itemHeight: 11, itemGap: 60,
            padding: [8, 8, 8, 24], borderColor: '#cccccc', borderWidth: 1, borderRadius: 4,
            backgroundColor: '#fff', selectedMode: false,
            textStyle: {fontSize: 22, color: '#000', fontFamily: fontFamily, padding: [0, 0, 0, 30]}
        }
    ]
};

var myChart = echarts.init(document.getElementById('main'));
myChart.setOption(option);
</script>
</body>
</html>
